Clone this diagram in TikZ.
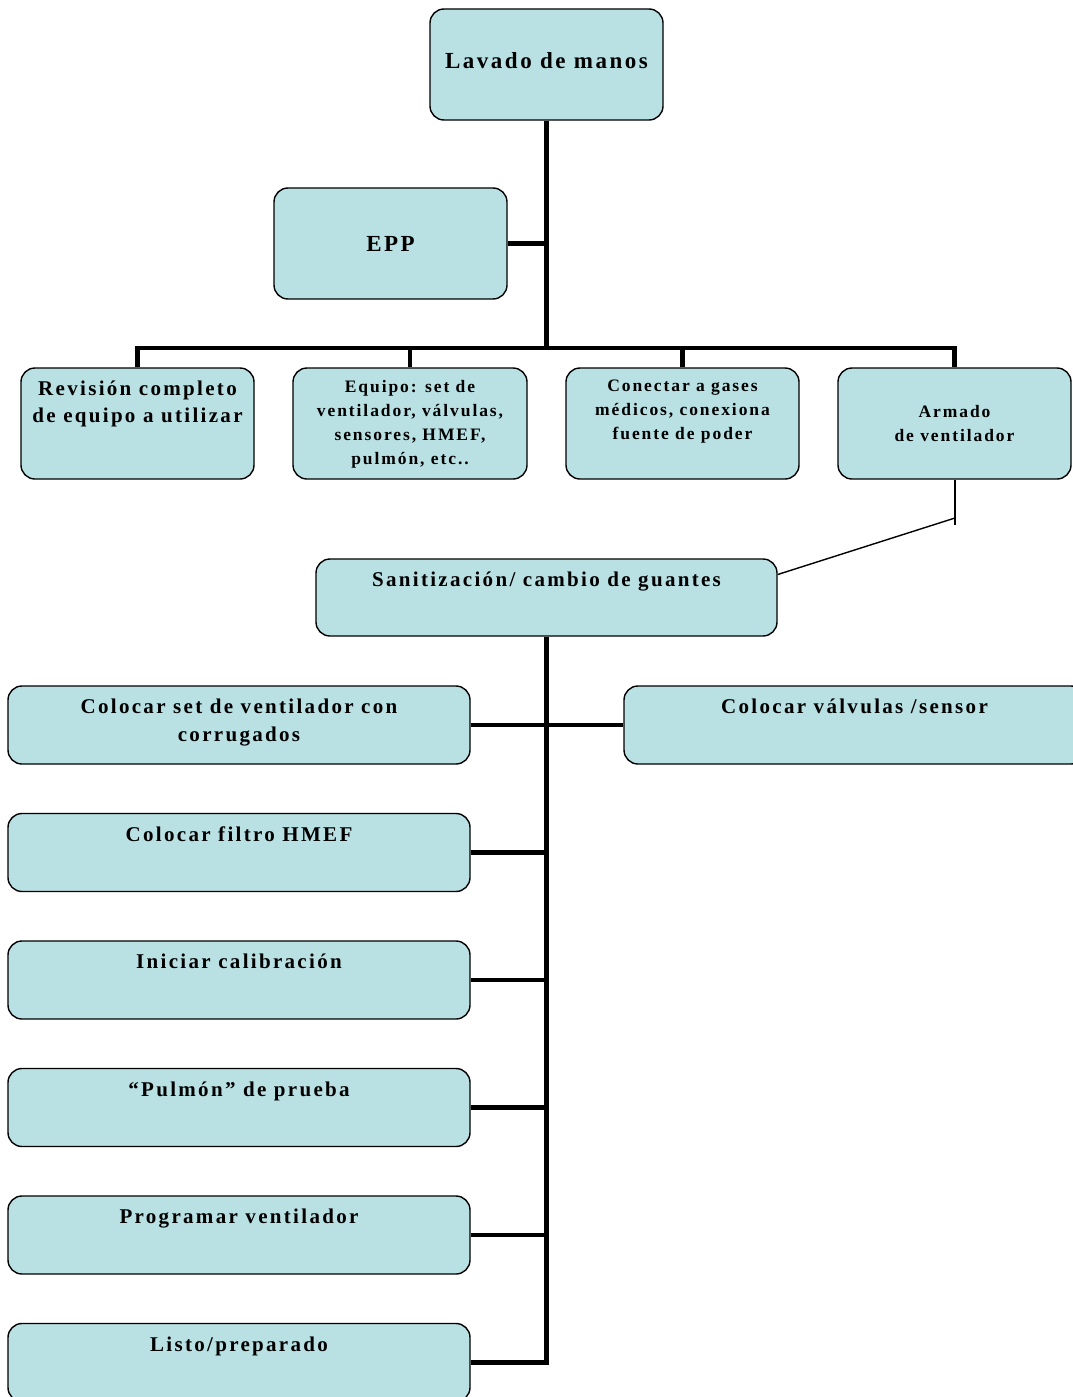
\documentclass[tikz,border=0pt]{standalone}
\usepackage{fontspec}
\setmainfont{Liberation Serif}[LetterSpace=11]
\definecolor{boxfill}{HTML}{B9E0E3}
\tikzset{
  box/.style={draw=black, fill=boxfill, rounded corners=14pt, line width=1.4pt, inner sep=0pt, font=\bfseries},
  conn/.style={line width=4.5pt, miter limit=10},
  thinconn/.style={line width=1.4pt}
}
\newcommand{\bxtt}[6]{\parbox[c][#2pt][t]{#1pt}{\vspace*{#3pt}\centering\fontsize{#4}{#5}\selectfont #6\par}}
\newcommand{\bxc}[5]{\parbox[c][#2pt][c]{#1pt}{\centering\fontsize{#3}{#4}\selectfont #5\par}}
\begin{document}
\begin{tikzpicture}[x=1pt,y=-1pt]
\useasboundingbox (0,0) rectangle (1073,1397);
% top
\node[box] (lavado) at (546.5,64.5) {\bxc{233}{111}{23}{26}{Lavado de manos\vspace*{7pt}}};
\node[box] (epp) at (390.5,243.5) {\bxc{233}{111}{23}{26}{EPP}};
% row
\node[box] (rev) at (137.5,423.5) {\bxtt{233}{111}{13}{21}{27}{Revisión completo\\de equipo a utilizar}};
\node[box] (equ) at (410,423.5) {\bxtt{234}{111}{12}{17.5}{24}{Equipo: set de\\ventilador, válvulas,\\sensores, HMEF,\\pulmón, etc..}};
\node[box] (con) at (682.5,423.5) {\bxtt{233}{111}{12}{17.5}{24}{Conectar a gases\\médicos, conexiona\\fuente de poder}};
\node[box] (arm) at (954.5,423.5) {\bxc{233}{111}{17.5}{24}{Armado\\de ventilador}};
% sanitizacion
\node[box] (san) at (546.5,597.5) {\bxtt{461}{77}{13}{21}{27}{Sanitización/ cambio de guantes}};
% lower
\node[box] (csv) at (239,725) {\bxtt{462}{78}{13}{21}{28}{Colocar set de ventilador con\\corrugados}};
\node[box] (cval) at (854.5,725) {\bxtt{461}{78}{13}{21}{28}{Colocar válvulas /sensor}};
\node[box] (fil) at (239,852.5) {\bxtt{462}{78}{13}{21}{28}{Colocar filtro HMEF}};
\node[box] (ini) at (239,980) {\bxtt{462}{78}{13}{21}{28}{Iniciar calibración}};
\node[box] (pul) at (239,1107.5) {\bxtt{462}{78}{13}{21}{28}{“Pulmón” de prueba}};
\node[box] (pro) at (239,1235) {\bxtt{462}{78}{13}{21}{28}{Programar ventilador}};
\node[box] (lis) at (239,1362.5) {\bxtt{462}{78}{13}{21}{28}{Listo/preparado}};
% connectors top
\coordinate (j1) at (546.5,348);
\draw[conn] (lavado.south) -- (j1);
\draw[conn] (epp.east) -- (epp.east -| lavado.south);
\draw[conn] (rev.north) |- (j1) -| (arm.north);
\draw[conn] (equ.north) -- (equ.north |- j1);
\draw[conn] (con.north) -- (con.north |- j1);
% armado to sanitizacion
\coordinate (a1) at (955,525);
\coordinate (a2) at (955,518);
\draw[thinconn] (arm.south -| a1) -- (a1);
\draw[thinconn] (a2) -- ([yshift=23pt]san.east);
% lower connectors
\coordinate (j2) at (546.5,1362.5);
\draw[conn] (san.south) -- (j2) -- (lis.east);
\draw[conn] (csv.east) -- (cval.west);
\draw[conn] (fil.east) -- (fil.east -| j2);
\draw[conn] (ini.east) -- (ini.east -| j2);
\draw[conn] (pul.east) -- (pul.east -| j2);
\draw[conn] (pro.east) -- (pro.east -| j2);
\end{tikzpicture}
\end{document}
